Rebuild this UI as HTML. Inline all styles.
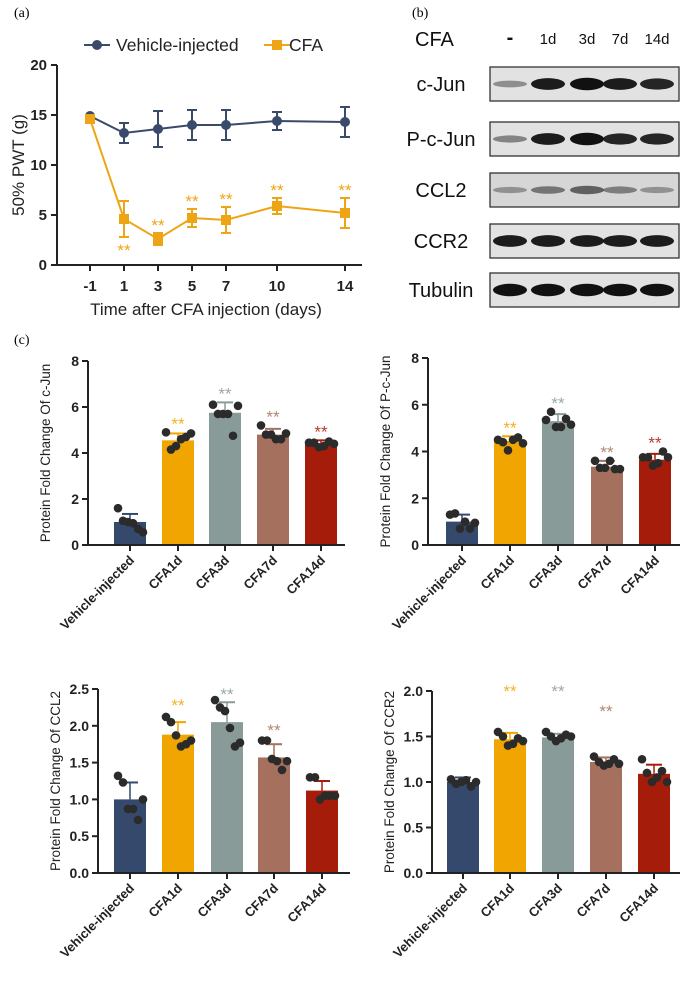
<!DOCTYPE html>
<html><head><meta charset="utf-8">
<style>
body{margin:0;background:#fff;width:692px;height:979px;overflow:hidden;font-family:"Liberation Sans",Arial,sans-serif}
svg text{font-family:"Liberation Sans",Arial,sans-serif}
</style></head><body>
<svg id="fig" width="692" height="979" xmlns="http://www.w3.org/2000/svg">
<text x="14" y="17" font-size="14" style="font-family:'Liberation Serif',serif">(a)</text>
<text x="412" y="17" font-size="14" style="font-family:'Liberation Serif',serif">(b)</text>
<text x="14" y="344" font-size="14" style="font-family:'Liberation Serif',serif">(c)</text>
<g id="line"></g>
<g id="blot"></g>
<g id="bars"></g>
</svg>
<script>
const NS="http://www.w3.org/2000/svg";
// ---- line chart data ----
const days=[-1,1,3,5,7,10,14];
const vehicleMean=[14.9,13.2,13.6,14.0,14.0,14.4,14.3];
const vehicleErr=[0,1.0,1.8,1.5,1.5,0.9,1.5];
const cfaMean=[14.6,4.6,2.6,4.7,4.5,5.9,5.2];
const cfaErr=[0,1.8,0.6,0.9,1.3,0.8,1.5];
const lineYTicks=[0,5,10,15,20];
// ---- bar chart data ----
const groups=["Vehicle-injected","CFA1d","CFA3d","CFA7d","CFA14d"];
const cjunMean=[1.0,4.55,5.75,4.8,4.4];
const cjunErr=[0.35,0.3,0.45,0.25,0.15];
const cjunDots=[[1.6,1.05,1.0,0.95,0.7,0.55],[4.9,4.15,4.3,4.6,4.7,4.85],[6.1,5.7,5.7,5.7,4.75,6.05],[5.2,4.8,4.8,4.6,4.6,4.85],[4.45,4.45,4.25,4.3,4.5,4.4]];
const pjunMean=[1.0,4.45,5.3,3.35,3.65];
const pjunErr=[0.3,0.2,0.3,0.25,0.25];
const pjunDots=[[1.3,1.35,0.7,1.0,0.7,0.95],[4.5,4.4,4.05,4.5,4.6,4.35],[5.35,5.7,5.05,5.05,5.4,5.15],[3.6,3.3,3.3,3.6,3.25,3.25],[3.75,3.75,3.4,3.5,4.0,3.75]];
const ccl2Mean=[1.0,1.88,2.05,1.57,1.12];
const ccl2Err=[0.23,0.17,0.27,0.18,0.13];
const ccl2Dots=[[1.32,1.23,0.87,0.87,0.72,1.0],[2.12,2.05,1.87,1.72,1.75,1.8],[2.35,2.25,2.2,1.97,1.72,1.77],[1.8,1.8,1.55,1.52,1.4,1.52],[1.3,1.3,1.0,1.05,1.05,1.05]];
const ccr2Mean=[1.0,1.47,1.49,1.22,1.09];
const ccr2Err=[0.05,0.07,0.04,0.05,0.1];
const ccr2Dots=[[1.03,0.98,1.0,1.02,0.95,1.0],[1.55,1.5,1.4,1.42,1.48,1.45],[1.55,1.5,1.45,1.48,1.52,1.5],[1.28,1.22,1.18,1.2,1.25,1.2],[1.25,1.1,1.0,1.05,1.12,1.0]];
const cjunTicks=[0,2,4,6,8];
const ccl2Ticks=[0,0.5,1,1.5,2,2.5];
const ccr2Ticks=[0,0.5,1,1.5,2];
const colors=["#34496b","#f0a500","#889b98","#a5705e","#a51c0a"];

function el(tag,attrs,parent,txt){const e=document.createElementNS(NS,tag);for(const k in attrs)e.setAttribute(k,attrs[k]);if(txt!==undefined)e.textContent=txt;parent.appendChild(e);return e;}

// ---- line chart ----
(function(){
const g=document.getElementById('line');
const xs=d=>124+(d-1)*17, ys=v=>265-v*10;
let a=el('line',{x1:57,y1:65,x2:57,y2:265,stroke:'#222','stroke-width':2},g);

a=el('line',{x1:56,y1:265,x2:362,y2:265,stroke:'#222','stroke-width':2},g);

lineYTicks.forEach(t=>{const y=ys(t);el('line',{x1:51,y1:y,x2:57,y2:y,stroke:'#222','stroke-width':2},g);
 const tx=el('text',{x:47,y:y+5,'text-anchor':'end','font-size':15,'font-weight':'bold',fill:'#222'},g,String(t));
 });
days.forEach(d=>{const x=xs(d);el('line',{x1:x,y1:265,x2:x,y2:271,stroke:'#222','stroke-width':2},g);
 const tx=el('text',{x:x,y:291,'text-anchor':'middle','font-size':15,'font-weight':'bold',fill:'#222'},g,String(d));
 });
let t=el('text',{transform:'translate(24,165) rotate(-90)','text-anchor':'middle','font-size':17,fill:'#222'},g,'50% PWT (g)');

t=el('text',{x:206,y:315,'text-anchor':'middle','font-size':17,fill:'#222'},g,'Time after CFA injection (days)');

function series(mean,err,col,shape,name){
 const pts=days.map((d,i)=>xs(d)+','+ys(mean[i])).join(' ');
 const p=el('polyline',{points:pts,fill:'none',stroke:col,'stroke-width':2},g);
 
 days.forEach((d,i)=>{const x=xs(d);if(err[i]>0){el('line',{x1:x,y1:ys(mean[i]-err[i]),x2:x,y2:ys(mean[i]+err[i]),stroke:col,'stroke-width':2},g);
  [mean[i]-err[i],mean[i]+err[i]].forEach(v=>el('line',{x1:x-5,y1:ys(v),x2:x+5,y2:ys(v),stroke:col,'stroke-width':2},g));}
  let m;if(shape==='c')m=el('circle',{cx:x,cy:ys(mean[i]),r:5,fill:col},g);
  else m=el('rect',{x:x-5,y:ys(mean[i])-5,width:10,height:10,fill:col},g);
  });
}
series(vehicleMean,vehicleErr,'#3a4a6b','c','vehicle');
series(cfaMean,cfaErr,'#eea515','s','cfa');
days.forEach((d,i)=>{if(i===0)return;const x=xs(d);const y=i===1?ys(cfaMean[i]-cfaErr[i])+19:ys(cfaMean[i]+cfaErr[i])-2;
 const s=el('text',{x:x,y:y,'text-anchor':'middle','font-size':17,fill:'#eea515'},g,'**');
 });
// legend
el('line',{x1:84,y1:45,x2:110,y2:45,stroke:'#3a4a6b','stroke-width':2},g);
let lm=el('circle',{cx:97,cy:45,r:5,fill:'#3a4a6b'},g);
t=el('text',{x:116,y:51,'font-size':17.5,fill:'#222'},g,'Vehicle-injected');
el('line',{x1:264,y1:45,x2:290,y2:45,stroke:'#eea515','stroke-width':2},g);
lm=el('rect',{x:272,y:40,width:10,height:10,fill:'#eea515'},g);
t=el('text',{x:289,y:51,'font-size':17.5,fill:'#222'},g,'CFA');
})();

// ---- western blot ----
const blotRows=["c-Jun","P-c-Jun","CCL2","CCR2","Tubulin"];
const blotIntensity=[[0.3,0.85,0.95,0.85,0.8],[0.35,0.85,0.95,0.8,0.8],[0.25,0.4,0.5,0.35,0.25],[0.85,0.85,0.85,0.85,0.85],[0.95,0.95,0.95,0.95,0.95]];
(function(){
const g=document.getElementById('blot');
const lanes=[510,548,587,620,657];const laneLbl=["-","1d","3d","7d","14d"];
let t=el('text',{x:415,y:46,'font-size':20,fill:'#111'},g,'CFA');
lanes.forEach((x,i)=>{const l=el('text',{x:x,y:44,'text-anchor':'middle','font-size':i===0?20:15,fill:'#111','font-weight':i===0?'bold':'normal'},g,laneLbl[i]);
 });
const tops=[67,122,173,224,273];
blotRows.forEach((r,j)=>{const y=tops[j];
 const lb=el('text',{x:441,y:y+24,'text-anchor':'middle','font-size':20,fill:'#111'},g,r);
 const bx=el('rect',{x:490,y:y,width:189,height:34,fill:j===2?'#d6d6d6':'#e2e2e2',stroke:'#333','stroke-width':1.3},g);
 
 lanes.forEach((x,i)=>{const v=blotIntensity[j][i];const h=4+v*9;
  const b=el('ellipse',{cx:x,cy:y+17,rx:17,ry:h/2,fill:'#111','fill-opacity':Math.min(1,v+0.1)},g);
  });
});
})();

// ---- bar charts ----
function barChart(cfg){
const g=document.getElementById('bars');
const {ax,y0,yTop,max,ticks,centers,mean,err,dots,title,stars,dec,xEnd}=cfg;
const ys=v=>y0-(v/max)*(y0-yTop);
const bw=32;
mean.forEach((m,i)=>{const x=centers[i];
 const r=el('rect',{x:x-bw/2,y:ys(m),width:bw,height:y0-ys(m),fill:colors[i]},g);
 
 const top=ys(m+err[i]);
 el('line',{x1:x,y1:ys(m),x2:x,y2:top,stroke:colors[i],'stroke-width':1.5},g);
 el('line',{x1:x-8,y1:top,x2:x+8,y2:top,stroke:colors[i],'stroke-width':2},g);
 dots[i].forEach((v,k)=>{const dx=[-10,-5,0,5,10,15][k]*1-2;
  const c=el('circle',{cx:x+dx,cy:ys(v),r:4.3,fill:'#2b2b2b'},g);});
 if(stars&&i>0){const dm=Math.max(...dots[i]);const s=el('text',{x:x,y:Math.min(ys(dm),top)-3,'text-anchor':'middle','font-size':17,fill:colors[i],'fill-opacity':0.85},g,'**');
  }
});
let a=el('line',{x1:ax,y1:yTop,x2:ax,y2:y0,stroke:'#222','stroke-width':2},g);
a=el('line',{x1:ax-1,y1:y0,x2:xEnd,y2:y0,stroke:'#222','stroke-width':2},g);
ticks.forEach(t=>{const y=ys(t);el('line',{x1:ax-6,y1:y,x2:ax,y2:y,stroke:'#222','stroke-width':2},g);
 const tx=el('text',{x:ax-9,y:y+5,'text-anchor':'end','font-size':14,'font-weight':'bold',fill:'#222'},g,dec?t.toFixed(1):String(t));
 });
centers.forEach((x,i)=>{el('line',{x1:x,y1:y0,x2:x,y2:y0+6,stroke:'#222','stroke-width':2},g);
 const tx=el('text',{transform:`translate(${x+5},${y0+16}) rotate(-45)`,'text-anchor':'end','font-size':13,'font-weight':'bold',fill:'#222'},g,groups[i]);
 });
const tt=el('text',{transform:`translate(${ax-38},${(y0+yTop)/2}) rotate(-90)`,'text-anchor':'middle','font-size':13.5,fill:'#222'},g,title);

}
barChart({ax:88,y0:545,yTop:361,max:8,ticks:cjunTicks,centers:[130,178,225,273,321],mean:cjunMean,err:cjunErr,dots:cjunDots,title:'Protein Fold Change Of c-Jun',stars:true,xEnd:345});
barChart({ax:428,y0:545,yTop:358,max:8,ticks:cjunTicks,centers:[462,510,558,607,655],mean:pjunMean,err:pjunErr,dots:pjunDots,title:'Protein Fold Change Of P-c-Jun',stars:true,xEnd:680});
barChart({ax:98,y0:873,yTop:689,max:2.5,ticks:ccl2Ticks,centers:[130,178,227,274,322],mean:ccl2Mean,err:ccl2Err,dots:ccl2Dots,title:'Protein Fold Change Of CCL2',stars:false,dec:true,xEnd:350});
barChart({ax:432,y0:873,yTop:691,max:2.0,ticks:ccr2Ticks,centers:[463,510,558,606,654],mean:ccr2Mean,err:ccr2Err,dots:ccr2Dots,title:'Protein Fold Change Of CCR2',stars:false,dec:true,xEnd:680});
(function(){const g=document.getElementById('bars');
 const ccl2StarY=[null,711,700,736,null], ccr2StarY=[null,697,697,717,null];
 [1,2,3].forEach(i=>{let s=el('text',{x:[130,178,227,274,322][i],y:ccl2StarY[i],'text-anchor':'middle','font-size':17,fill:colors[i],'fill-opacity':0.85},g,'**');
  
  s=el('text',{x:[463,510,558,606,654][i],y:ccr2StarY[i],'text-anchor':'middle','font-size':17,fill:colors[i],'fill-opacity':0.85},g,'**');
  });
})();
</script>
</body></html>
